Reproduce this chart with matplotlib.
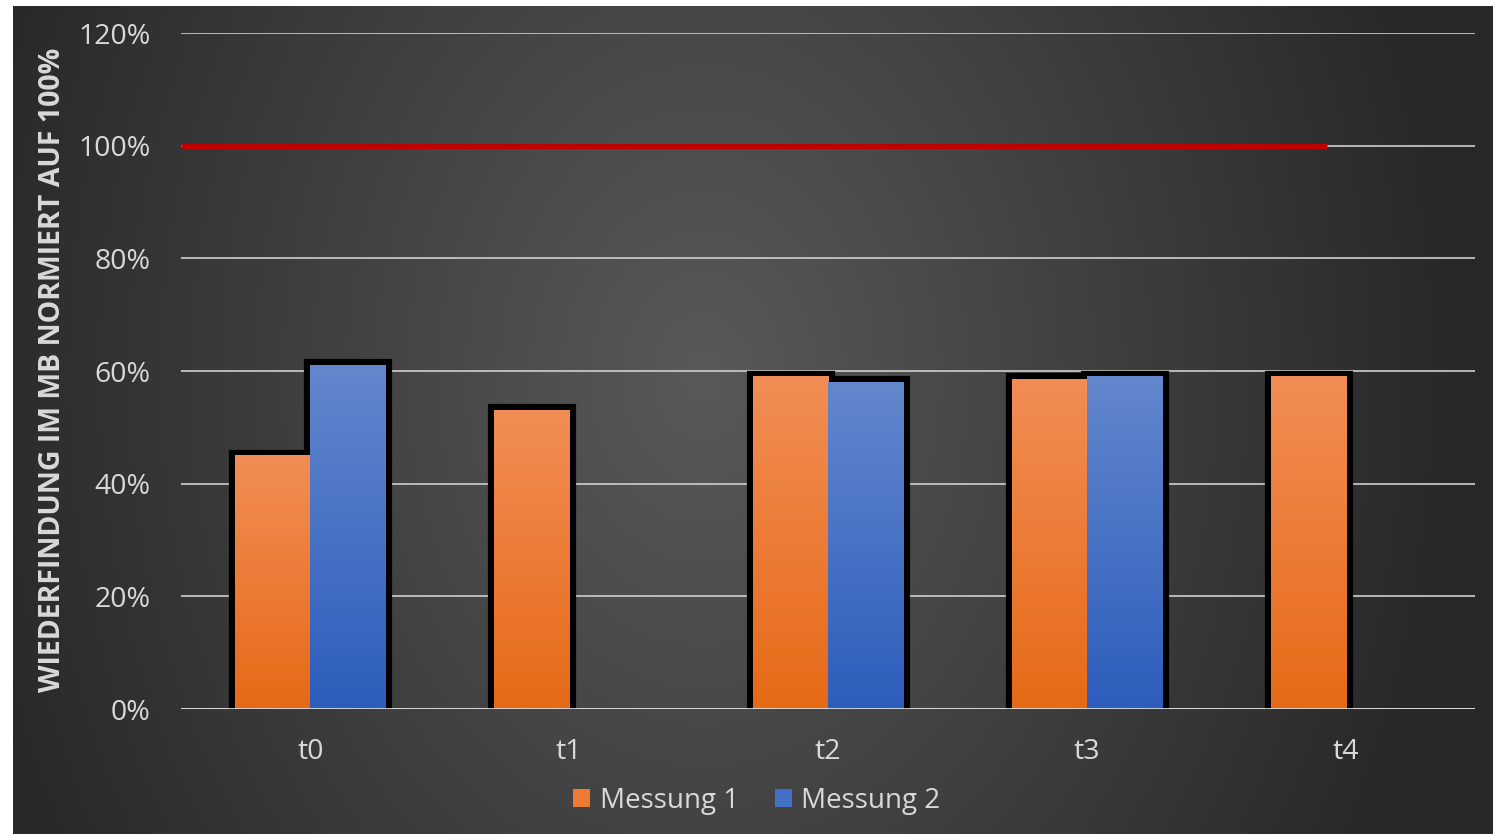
import numpy as np
import matplotlib.pyplot as plt
from matplotlib.colors import LinearSegmentedColormap
from matplotlib.patches import Patch

categories = ["t0", "t1", "t2", "t3", "t4"]
messung_1 = [0.45, 0.53, 0.59, 0.585, 0.59]
messung_2 = [0.61, np.nan, 0.58, 0.59, np.nan]
referenz_x = [-0.5, 3.93]
referenz_y = [1.0, 1.0]
y_ticks = [0, 0.2, 0.4, 0.6, 0.8, 1.0, 1.2]
y_ticklabels = ["0%", "20%", "40%", "60%", "80%", "100%", "120%"]

plt.rcParams['font.family'] = ['Open Sans', 'DejaVu Sans']
W, H = 1504, 834
fig = plt.figure(figsize=(W / 100, H / 100), dpi=100, facecolor='white')

# Hintergrund: radialer Verlauf (hell in der Mitte, dunkel am Rand)
bg = fig.add_axes([13 / W, 0, 1480 / W, 828 / H], zorder=-1)
yy, xx = np.mgrid[0:828, 0:1480]
d = np.sqrt(((xx - 690) / 760) ** 2 + ((yy - 370) / 1000) ** 2)
d = np.clip(d, 0, 1)
bg_cmap = LinearSegmentedColormap.from_list('bg', ['#595959', '#282828'])
bg.imshow(d, cmap=bg_cmap, vmin=0, vmax=1, aspect='auto')
bg.axis('off')

ax = fig.add_axes([181 / W, 125 / H, 1294 / W, 676 / H])
ax.patch.set_alpha(0)

x = np.arange(len(categories))
w = 0.29
series = [
    (x - w / 2, messung_1, '#F28D56', '#E56A16'),
    (x + w / 2, messung_2, '#6387CD', '#2D5DBC'),
]

# schwarzer Rand (Schatten) zuerst, dann die Verlaufsfüllungen
for pos, vals, top, bottom in series:
    ax.bar(pos, vals, w, color='none', edgecolor='black', linewidth=9.5, zorder=2)

grad = np.linspace(0, 1, 256).reshape(-1, 1)
for pos, vals, top, bottom in series:
    cmap = LinearSegmentedColormap.from_list('', [bottom, top])
    for p, v in zip(pos, vals):
        if np.isnan(v):
            continue
        ax.imshow(grad, cmap=cmap, extent=[p - w / 2, p + w / 2, 0, v],
                  origin='lower', aspect='auto', zorder=3)

ax.plot(referenz_x, referenz_y, color='#C00000', linewidth=3.8,
        solid_capstyle='butt', zorder=4)
ax.axhline(0, color='#D9D9D9', linewidth=1.3, zorder=5)

ax.set_xlim(-0.5, len(categories) - 0.5)
ax.set_ylim(0, 1.2)
ax.set_yticks(y_ticks)
ax.set_yticklabels(y_ticklabels)
ax.set_xticks(x)
ax.set_xticklabels(categories)
ax.yaxis.grid(True, color='#CFCFCF', linewidth=1.2, zorder=0)
ax.set_axisbelow(True)
ax.tick_params(axis='both', length=0, labelsize=20.5, colors='#D9D9D9')
ax.tick_params(axis='y', pad=22)
ax.tick_params(axis='x', pad=21)
for s in ax.spines.values():
    s.set_visible(False)

fig.text(53 / W, 1 - 370 / H, "WIEDERFINDUNG IM MB NORMIERT AUF 100%",
         rotation=90, ha='center', va='center', fontsize=20.5,
         fontweight='bold', color='#D9D9D9')

handles = [Patch(facecolor='#EE7A33', label='Messung 1'),
           Patch(facecolor='#4470C6', label='Messung 2')]
fig.legend(handles=handles, loc='center', bbox_to_anchor=(757 / W, 33 / H),
           ncol=2, frameon=False, fontsize=20, labelcolor='#D9D9D9',
           handlelength=0.6, handleheight=0.6, handletextpad=0.35,
           columnspacing=1.3)

fig.savefig('out.png', dpi=100)
